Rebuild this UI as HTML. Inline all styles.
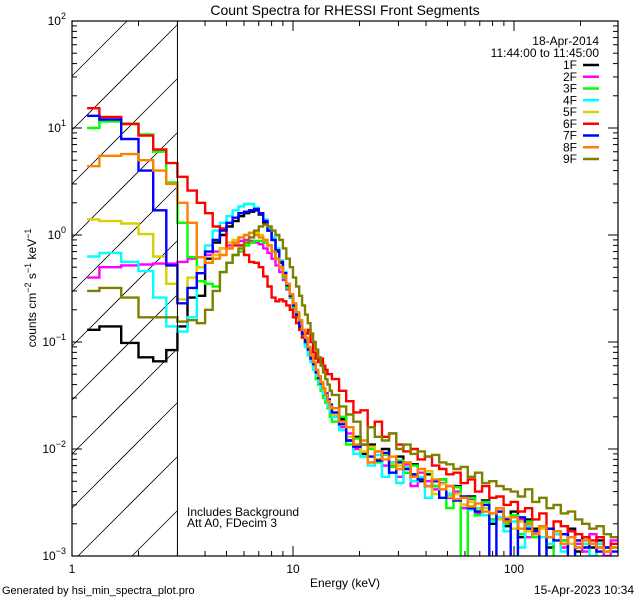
<!DOCTYPE html>
<html><head><meta charset="utf-8"><style>
html,body{margin:0;padding:0;background:#fff;overflow:hidden;}
svg{display:block;font-family:"Liberation Sans",sans-serif;}
</style></head><body>
<svg id="chart" width="640" height="600" viewBox="0 0 640 600">
<defs><clipPath id="pc"><rect x="72" y="21" width="546" height="535"/></clipPath></defs>
<rect x="0" y="0" width="640" height="600" fill="#fff"/>
<text x="345" y="15" font-size="14" text-anchor="middle">Count Spectra for RHESSI Front Segments</text>
<g id="hatch"></g>
<g id="series" clip-path="url(#pc)"></g>
<g id="axes"></g>
<text transform="translate(36,288) rotate(-90)" font-size="12" text-anchor="middle">counts cm<tspan dy="-5" font-size="9">−2</tspan><tspan dy="5"> s</tspan><tspan dy="-5" font-size="9">−1</tspan><tspan dy="5"> keV</tspan><tspan dy="-5" font-size="9">−1</tspan></text>
<text x="345" y="587" font-size="12" text-anchor="middle">Energy (keV)</text>
<text x="187" y="516" font-size="12">Includes Background</text>
<text x="187" y="527" font-size="12">Att A0, FDecim 3</text>
<text x="2" y="594" font-size="11">Generated by hsi_min_spectra_plot.pro</text>
<text x="634" y="594" font-size="12" text-anchor="end">15-Apr-2023 10:34</text>
<text x="599" y="45" font-size="12" text-anchor="end">18-Apr-2014</text>
<text x="599" y="57" font-size="12" text-anchor="end">11:44:00 to 11:45:00</text>
<g id="legend"></g>
</svg>
<script>
const detectors = ["1F","2F","3F","4F","5F","6F","7F","8F","9F"];
const colors = ["#000000","#ff00ff","#00ff00","#00ffff","#d8d000","#ff0000","#0000ff","#ff8000","#808000"];
const lowEdges = [1.17,1.33,1.67,2,2.33,2.67,3,3.33,3.67,4,4.33,4.67,5,5.33,5.67,6,6.33,6.67,7,7.33,7.67,8,8.33,8.67,9,9.33,9.67,10,10.33,10.67,11,11.33,11.67,12,12.33,12.67,13,13.33,13.67,14,14.33,14.67,15];
const low1F = [.13,.14,.098,.072,.066,.084,.14,.26,.27,.6,.85,1.0,1.2,1.35,1.5,1.6,1.65,1.7,1.55,1.3,1.1,.9,.7,.55,.42,.33,.26,.21,.17,.14,.11,.095,.08,.07,.06,.05,.045,.04,.036,.032,.028,.025];
const low2F = [.4,.5,.52,.53,.54,.54,.56,.6,.62,.65,.7,.75,.8,.85,.88,.9,.88,.85,.82,.75,.68,.6,.52,.45,.38,.31,.26,.21,.18,.15,.12,.1,.085,.072,.062,.054,.047,.042,.037,.032,.028,.025];
const low3F = [10,11.5,11,8.7,6,3.1,1.3,.62,.37,.35,.33,.45,.55,.65,.7,.8,.85,.88,.88,.85,.8,.7,.6,.5,.4,.32,.26,.21,.17,.14,.11,.09,.075,.065,.055,.045,.04,.035,.03,.027,.024,.02];
const low4F = [.63,.68,.56,.46,.26,.14,.125,.17,.5,.8,1.1,1.3,1.5,1.7,1.85,1.95,1.95,1.8,1.6,1.4,1.15,.95,.75,.58,.45,.35,.28,.22,.18,.14,.11,.09,.075,.065,.055,.048,.042,.037,.033,.029,.025,.022];
const low5F = [1.4,1.35,1.28,1.02,.63,.35,.25,.4,.5,.55,.65,.75,.85,.9,.95,1.0,1.05,1.05,1.0,.9,.8,.7,.6,.5,.42,.35,.28,.23,.19,.15,.12,.1,.085,.072,.062,.054,.047,.042,.036,.032,.028,.024];
const low6F = [15.3,12.7,10.9,8.5,6.3,4.7,3.5,2.6,2.0,1.6,1.2,1.15,.75,.8,.8,.65,.56,.55,.5,.41,.33,.26,.24,.25,.24,.22,.2,.17,.15,.13,.11,.12,.13,.1,.08,.07,.065,.07,.06,.055,.05,.05];
const low7F = [13,12,7.9,4.0,1.7,.52,.23,.32,.44,.7,.9,1.1,1.3,1.45,1.6,1.65,1.7,1.75,1.6,1.35,1.1,.9,.72,.56,.44,.34,.27,.22,.18,.14,.12,.1,.085,.07,.062,.052,.046,.041,.037,.033,.029,.026];
const low8F = [4.4,5.5,5.7,5.0,4.0,3.0,2.0,1.3,.62,.55,.6,.65,.75,.85,.95,1.0,1.05,1.0,.95,.9,.8,.7,.6,.5,.42,.35,.28,.23,.19,.16,.13,.11,.09,.075,.065,.055,.048,.042,.037,.032,.028,.025];
const low9F = [.3,.32,.26,.17,.17,.17,.155,.16,.15,.2,.3,.45,.55,.65,.75,.85,.95,1.1,1.2,1.25,1.2,1.1,1.0,.9,.75,.6,.5,.4,.33,.27,.22,.18,.15,.12,.1,.085,.072,.06,.052,.045,.04,.035];
const hi1F = [.024,.019,.012,.013,.009,.011,.008,.01,.007,.0085,.006,.0072,.005,.0058,.0045,.0052,.0038,.0045,.003,.0036,.0027,.0033,.002,.0028,.0019,.0026,.0015,.0022,.0018,.0019,.0012,.0017,.0014,.0018,.0011,.0015,.0012,.0014,.0009,.0012];
const hi2F = [.02,.016,.014,.01,.011,.0075,.0095,.007,.0075,.0055,.0072,.0045,.006,.005,.0042,.0048,.0035,.004,.0028,.0034,.0025,.0032,.0022,.0026,.0021,.0018,.0022,.0015,.0017,.0019,.0013,.0016,.0012,.0017,.0013,.0011,.0016,.0012,.001,.0014];
const hi3F = [.018,.02,.011,.0125,.0085,.01,.0075,.0088,.0068,.0078,.006,.007,.0052,.0062,.0045,.0052,.0028,.0044,.0009,.0035,.0024,.0032,.0022,.0028,.002,.0024,.0016,.0021,.0015,.0019,.0009,.0017,.0014,.0015,.0012,.0014,.0009,.0013,.0011,.0012];
const hi4F = [.02,.015,.013,.009,.0085,.007,.0088,.0055,.0075,.0048,.0068,.005,.0055,.0035,.005,.0042,.0038,.0033,.003,.0027,.0028,.0024,.0021,.0023,.0017,.0021,.0012,.0019,.0016,.0015,.0013,.0016,.0011,.0015,.0012,.0013,.001,.0013,.0011,.0012];
const hi5F = [.021,.017,.013,.011,.0095,.0105,.008,.009,.0072,.007,.0075,.0055,.0052,.0062,.0038,.0047,.0036,.0038,.003,.0032,.0027,.0028,.0025,.0022,.0023,.0018,.0021,.0017,.0016,.0018,.0015,.0014,.0016,.0013,.0014,.0012,.0013,.0012,.0011,.0012];
const hi6F = [.045,.035,.028,.022,.023,.016,.018,.013,.014,.011,.0095,.01,.008,.0085,.007,.0065,.0058,.006,.0048,.0052,.004,.0045,.0035,.0036,.003,.0032,.0026,.0028,.0022,.0025,.0018,.0021,.0019,.0017,.0016,.0015,.0014,.0015,.0012,.0013];
const hi7F = [.022,.017,.012,.0105,.011,.0085,.0078,.0092,.006,.0075,.0065,.0058,.0052,.0045,.005,.0035,.0045,.0033,.0036,.0028,.0026,.003,.0009,.0026,.0022,.0009,.0023,.0018,.0017,.0009,.0018,.0014,.0016,.0009,.0014,.0012,.0013,.0011,.0012,.0011];
const hi8F = [.024,.018,.016,.011,.012,.0075,.0095,.008,.0085,.0065,.0075,.0055,.0065,.0045,.0052,.0042,.0045,.0034,.0035,.0029,.0031,.0026,.0025,.0028,.0021,.0023,.0018,.002,.0016,.0019,.0015,.0017,.0013,.0015,.0012,.0014,.0013,.0012,.0011,.0012];
const hi9F = [.032,.025,.021,.018,.011,.016,.013,.012,.014,.01,.011,.009,.0095,.0085,.0088,.0075,.0072,.0065,.0068,.0055,.006,.0048,.005,.0045,.0042,.004,.0036,.0042,.0032,.0035,.0028,.003,.0025,.0026,.0022,.002,.0018,.0019,.0016,.0015];
const lowSeries = [low1F,low2F,low3F,low4F,low5F,low6F,low7F,low8F,low9F];
const hiSeries = [hi1F,hi2F,hi3F,hi4F,hi5F,hi6F,hi7F,hi8F,hi9F];
const yTickExps = [-3,-2,-1,0,1,2];
const xTickLabels = ["1","10","100"];
const xTickValues = [1,10,100];
const hatchLimit = 3;

const NS="http://www.w3.org/2000/svg";
const X0=72,X1=618,Y0=556,Y1=21,DEC_X=221,DEC_Y=107;
const xs = e => X0 + DEC_X*Math.log10(e);
const ys = v => Y0 - DEC_Y*(Math.log10(Math.max(v,0.0009))+3);
function mk(tag, attrs, parent){const el=document.createElementNS(NS,tag);for(const k in attrs)el.setAttribute(k,attrs[k]);parent.appendChild(el);return el;}

const hiEdges=[15];
const eMax=Math.pow(10,(X1-X0)/DEC_X);
for(let i=1;i<=40;i++) hiEdges.push(15*Math.pow(eMax/15,i/40));

// hatch lines, clipped analytically to the hatched rectangle
const hatch=document.getElementById('hatch');
const hx=xs(hatchLimit);
for(let c=-600;c<700;c+=54){
  // y = Y0 - c - (x - X0)
  let xa=X0, xb=hx;
  const yAt=x=>Y0-c-(x-X0);
  if(yAt(xa)>Y0) xa=X0+(Y0-c-Y0)+0; // y=Y0 -> x = X0 - c
  if(yAt(X0)>Y0) xa=X0-c;
  if(yAt(hx)<Y1) xb=X0+(Y0-c-Y1);
  if(xa<X0) xa=X0;
  if(xb>hx) xb=hx;
  if(xb<=xa) continue;
  const l=mk('line',{x1:xa.toFixed(1),y1:yAt(xa).toFixed(1),x2:xb.toFixed(1),y2:yAt(xb).toFixed(1),stroke:'#000','stroke-width':0.8},hatch);
  
  
}
const axes=document.getElementById('axes');
const hb=mk('line',{x1:hx,y1:Y1,x2:hx,y2:Y0,stroke:'#000','stroke-width':1},axes);



const sg=document.getElementById('series');
detectors.forEach((d,k)=>{
  const edges=lowEdges.concat(hiEdges.slice(1));
  const vals=lowSeries[k].concat(hiSeries[k]);
  let p='';
  for(let i=0;i<vals.length;i++){
    const y=Math.min(ys(vals[i]),Y0+2).toFixed(1);
    const xa=xs(edges[i]).toFixed(1), xb=Math.min(xs(edges[i+1]),X1).toFixed(1);
    p+=(i===0?'M':'L')+xa+','+y+'L'+xb+','+y;
  }
  const path=mk('path',{d:p,fill:'none',stroke:colors[k],'stroke-width':2.4,'stroke-linejoin':'miter'},sg);
  
  
});

const fr=mk('rect',{x:X0,y:Y1,width:X1-X0,height:Y0-Y1,fill:'none',stroke:'#000','stroke-width':1.2},axes);


yTickExps.forEach(ex=>{
  const y=Y0-DEC_Y*(ex+3);
  mk('line',{x1:X0,y1:y,x2:X0+10,y2:y,stroke:'#000'},axes);
  mk('line',{x1:X1,y1:y,x2:X1-10,y2:y,stroke:'#000'},axes);
  const t=mk('text',{x:66,y:y+4,'font-size':12,'text-anchor':'end'},axes);
  
  
  t.innerHTML='10<tspan dy="-6" font-size="9">'+(ex<0?'−'+(-ex):ex)+'</tspan>';
  if(ex<2){for(let m=2;m<=9;m++){const yy=y-DEC_Y*Math.log10(m);
    mk('line',{x1:X0,y1:yy,x2:X0+5,y2:yy,stroke:'#000'},axes);
    mk('line',{x1:X1,y1:yy,x2:X1-5,y2:yy,stroke:'#000'},axes);}}
});
xTickValues.forEach((v,i)=>{
  const x=xs(v);
  mk('line',{x1:x,y1:Y0,x2:x,y2:Y0-10,stroke:'#000'},axes);
  mk('line',{x1:x,y1:Y1,x2:x,y2:Y1+10,stroke:'#000'},axes);
  const t=mk('text',{x:x,y:573,'font-size':12,'text-anchor':'middle'},axes);
  
  
  t.textContent=xTickLabels[i];
  for(let m=2;m<=9;m++){const xx=xs(v*m); if(xx>X1) break;
    mk('line',{x1:xx,y1:Y0,x2:xx,y2:Y0-5,stroke:'#000'},axes);
    mk('line',{x1:xx,y1:Y1,x2:xx,y2:Y1+5,stroke:'#000'},axes);}
});
const lg=document.getElementById('legend');
detectors.forEach((d,k)=>{
  const y=65+k*11.75;
  const t=mk('text',{x:577,y:y+4,'font-size':12,'text-anchor':'end'},lg);
  
  
  t.textContent=d;
  const l=mk('line',{x1:583,y1:y,x2:599,y2:y,stroke:colors[k],'stroke-width':2.5},lg);
  
  
});
</script>
</body></html>
